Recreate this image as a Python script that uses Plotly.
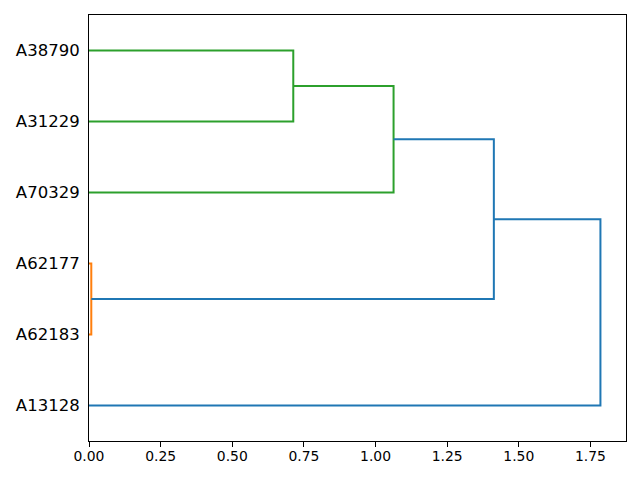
import plotly.graph_objects as go

# Leaf labels, bottom to top (leaf positions 5, 15, 25, ...)
leaf_labels = ["A13128", "A62183", "A62177", "A70329", "A31229", "A38790"]

# Link coordinates (scipy-style dendrogram, orientation='left')
# distance coordinates (x) and leaf-position coordinates (y) for each link
link_dist = [
    [0.0, 0.008, 0.008, 0.0],
    [0.0, 0.713, 0.713, 0.0],
    [0.0, 1.063, 1.063, 0.713],
    [0.008, 1.413, 1.413, 1.063],
    [0.0, 1.785, 1.785, 1.413],
]
link_pos = [
    [15, 15, 25, 25],
    [45, 45, 55, 55],
    [35, 35, 50, 50],
    [20, 20, 42.5, 42.5],
    [5, 5, 31.25, 31.25],
]
link_colors = ["#ff7f0e", "#2ca02c", "#2ca02c", "#1f77b4", "#1f77b4"]

leaf_positions = [5 + 10 * i for i in range(len(leaf_labels))]
x_ticks = [0, 0.25, 0.5, 0.75, 1.0, 1.25, 1.5, 1.75]

fig = go.Figure()
for xs, ys, c in zip(link_dist, link_pos, link_colors):
    fig.add_trace(go.Scatter(x=xs, y=ys, mode="lines",
                             line=dict(color=c, width=2),
                             showlegend=False, hoverinfo="skip"))

max_d = max(max(d) for d in link_dist)

fig.update_layout(
    width=640, height=480,
    margin=dict(l=81, r=22, t=7, b=47),
    paper_bgcolor="white", plot_bgcolor="white",
    font=dict(family="DejaVu Sans", color="black"),
    showlegend=False,
)
fig.update_xaxes(
    range=[0, max_d * 1.05],
    tickvals=x_ticks,
    ticktext=[f"{v:.2f}" for v in x_ticks],
    tickfont=dict(size=13.9, family="DejaVu Sans"),
    ticks="outside", ticklen=5, tickwidth=1.1, tickcolor="black",
    ticklabelstandoff=-3,
    showline=True, linecolor="black", linewidth=1.1, mirror=True,
    showgrid=False, zeroline=False, automargin=False,
)
fig.update_yaxes(
    range=[0, 10 * len(leaf_labels)],
    tickvals=leaf_positions,
    ticktext=leaf_labels,
    tickfont=dict(size=16.5, family="DejaVu Sans"),
    ticks="outside", ticklen=5, tickcolor="rgba(0,0,0,0)",
    showline=True, linecolor="black", linewidth=1.1, mirror=True,
    showgrid=False, zeroline=False, automargin=False,
)

fig.write_html("out.html")
